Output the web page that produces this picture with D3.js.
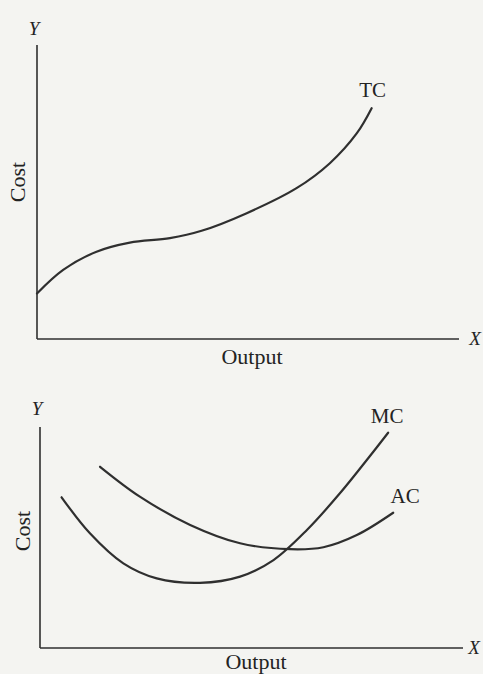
<!DOCTYPE html>
<html>
<head>
<meta charset="utf-8">
<script src="https://cdn.jsdelivr.net/npm/d3@7/dist/d3.min.js"></script>
<style>
  html, body { margin: 0; padding: 0; background: #f4f4f1; }
  svg { display: block; }
  text { font-family: "Liberation Serif", "DejaVu Serif", serif; fill: #232323; }
</style>
</head>
<body>
<div id="vis"></div>
<script>
// values, output and cost both on a 0-100 scale
var tcOutput = [0, 6.2, 14.1, 22.0, 31.5, 39.0, 49.7, 61.5, 69.4, 75.8, 79.3];
var tcCost   = [15.5, 23.5, 29.7, 32.8, 34.3, 36.8, 42.8, 51.3, 59.8, 70.0, 78.5];

var mcOutput = [5.1, 11.8, 19.7, 27.6, 37.8, 47.3, 55.2, 63.1, 70.9, 78.8, 82.3];
var mcCost   = [68.2, 51.9, 38.3, 31.5, 29.5, 32.3, 39.8, 53.4, 70.0, 88.8, 97.4];

var acOutput = [14.2, 23.6, 35.5, 47.3, 59.1, 67.0, 74.9, 83.5];
var acCost   = [82.0, 68.5, 55.7, 47.4, 44.7, 45.6, 51.1, 61.2];

var width = 483;
var height = 674;
var ink = '#2f2f2f';

var svg = d3.select('#vis')
  .append('svg')
  .attr('width', width)
  .attr('height', height);

function zip(xs, ys) {
  return xs.map(function (d, i) { return [d, ys[i]]; });
}

function panel(box, curves) {
  var x = d3.scaleLinear().domain([0, 100]).range([box.left, box.right]);
  var y = d3.scaleLinear().domain([0, 100]).range([box.bottom, box.top]);

  var g = svg.append('g');

  // axes
  g.append('line')
    .attr('x1', box.left).attr('y1', box.top)
    .attr('x2', box.left).attr('y2', box.bottom)
    .attr('stroke', ink).attr('stroke-width', 1.6);
  g.append('line')
    .attr('x1', box.left).attr('y1', box.bottom)
    .attr('x2', box.right).attr('y2', box.bottom)
    .attr('stroke', ink).attr('stroke-width', 1.6);

  g.append('text')
    .attr('x', box.left - 3).attr('y', box.top + box.yLabelDy)
    .attr('text-anchor', 'middle')
    .style('font-style', 'italic')
    .style('font-size', '19px')
    .text('Y');
  g.append('text')
    .attr('x', box.right + box.xLabelDx).attr('y', box.bottom + 6)
    .attr('text-anchor', 'middle')
    .style('font-style', 'italic')
    .style('font-size', '19px')
    .text('X');
  g.append('text')
    .attr('x', box.outputX).attr('y', box.bottom + box.outputDy)
    .attr('text-anchor', 'middle')
    .style('font-size', '22px')
    .text('Output');
  g.append('text')
    .attr('transform', 'translate(' + (box.left + box.costDx) + ',' + box.costY + ') rotate(-90)')
    .attr('text-anchor', 'middle')
    .style('font-size', '22px')
    .text('Cost');

  var line = d3.line()
    .x(function (d) { return x(d[0]); })
    .y(function (d) { return y(d[1]); })
    .curve(d3.curveCatmullRom.alpha(0.5));

  curves.forEach(function (c) {
    g.append('path')
      .datum(zip(c.xs, c.ys))
      .attr('d', line)
      .attr('fill', 'none')
      .attr('stroke', ink)
      .attr('stroke-width', 2.2)
      .attr('stroke-linecap', 'round');

    var last = c.xs.length - 1;
    g.append('text')
      .attr('x', x(c.xs[last]) + c.dx)
      .attr('y', y(c.ys[last]) + c.dy)
      .attr('text-anchor', 'middle')
      .style('font-size', '21px')
      .text(c.name);
  });
}

panel({ left: 37, right: 459, top: 45, bottom: 339, yLabelDy: -10, xLabelDx: 16,
        outputX: 252, outputDy: 25, costDx: -12, costY: 182 }, [
  { name: 'TC', xs: tcOutput, ys: tcCost, dx: 1, dy: -11 }
]);

panel({ left: 40, right: 463, top: 427, bottom: 648, yLabelDy: -12, xLabelDx: 11,
        outputX: 256, outputDy: 21, costDx: -10, costY: 531 }, [
  { name: 'MC', xs: mcOutput, ys: mcCost, dx: -1, dy: -10 },
  { name: 'AC', xs: acOutput, ys: acCost, dx: 12, dy: -10 }
]);
</script>
</body>
</html>
